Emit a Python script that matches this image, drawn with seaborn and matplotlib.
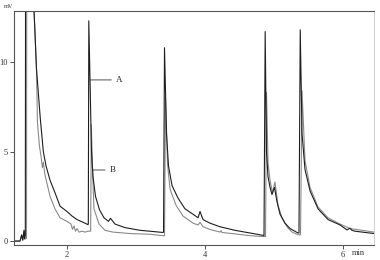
import matplotlib
matplotlib.use("Agg")
import matplotlib.pyplot as plt
import seaborn as sns
import pandas as pd

# Series A (darker trace)
time_a = [1.232, 1.319, 1.343, 1.359, 1.377, 1.386, 1.396, 1.401, 1.493, 1.522, 1.558, 1.614, 1.657,
          1.696, 1.754, 1.826, 1.899, 2.000, 2.072, 2.145, 2.232, 2.304, 2.309, 2.316, 2.333, 2.355,
          2.377, 2.413, 2.471, 2.536, 2.601, 2.630, 2.696, 2.841, 3.058, 3.203, 3.391, 3.399, 3.413,
          3.442, 3.471, 3.522, 3.609, 3.710, 3.826, 3.899, 3.928, 3.971, 4.072, 4.217, 4.435, 4.652,
          4.841, 4.855, 4.872, 4.891, 4.913, 4.942, 4.971, 5.007, 5.043, 5.087, 5.159, 5.232, 5.348,
          5.362, 5.380, 5.406, 5.449, 5.522, 5.638, 5.783, 5.957, 6.058, 6.101, 6.130, 6.174, 6.449]
mv_a = [0.0, 0.0, 0.35, 0.05, 0.6, 0.15, 0.3, 20.0, 16.0, 12.9, 9.6, 6.8, 5.0,
        4.2, 3.4, 2.7, 1.95, 1.65, 1.4, 1.2, 1.05, 0.92, 0.95, 12.3, 9.1, 5.0,
        3.6, 2.5, 1.75, 1.3, 1.1, 1.27, 0.95, 0.75, 0.6, 0.55, 0.48, 0.5, 10.8,
        6.0, 4.2, 3.1, 2.4, 1.8, 1.5, 1.3, 1.65, 1.2, 1.0, 0.8, 0.6, 0.45,
        0.32, 0.3, 11.7, 5.0, 3.6, 3.0, 2.6, 3.0, 2.2, 1.5, 1.0, 0.7, 0.45,
        0.45, 11.8, 6.0, 4.0, 2.8, 1.8, 1.2, 0.9, 0.62, 0.72, 0.6, 0.55, 0.42]

# Series B (lighter trace)
time_b = [1.232, 1.319, 1.343, 1.359, 1.377, 1.386, 1.413, 1.418, 1.493, 1.522, 1.558, 1.572, 1.601,
          1.629, 1.643, 1.657, 1.681, 1.754, 1.826, 1.899, 2.000, 2.058, 2.080, 2.101, 2.123, 2.145,
          2.174, 2.217, 2.261, 2.304, 2.343, 2.352, 2.370, 2.391, 2.464, 2.551, 2.667, 2.913, 3.203,
          3.391, 3.413, 3.428, 3.457, 3.493, 3.580, 3.681, 3.826, 3.899, 3.928, 3.971, 4.072, 4.217,
          4.232, 4.246, 4.435, 4.652, 4.841, 4.877, 4.891, 4.913, 4.942, 4.978, 5.014, 5.058, 5.116,
          5.188, 5.261, 5.348, 5.384, 5.406, 5.449, 5.522, 5.638, 5.783, 5.957, 6.101, 6.449]
mv_b = [0.0, 0.0, 0.3, 0.05, 0.55, 0.1, 0.15, 20.0, 16.0, 12.9, 9.6, 6.6, 5.3,
        4.6, 4.1, 4.4, 3.7, 2.5, 1.8, 1.3, 1.1, 0.95, 0.65, 0.85, 0.55, 0.7,
        0.5, 0.55, 0.5, 0.55, 0.55, 6.5, 4.0, 1.8, 0.95, 0.6, 0.5, 0.42, 0.38,
        0.3, 0.3, 8.0, 4.3, 2.9, 2.0, 1.4, 1.0, 0.9, 1.05, 0.8, 0.65, 0.5,
        0.58, 0.48, 0.4, 0.3, 0.25, 0.25, 8.3, 4.4, 3.4, 2.7, 3.3, 2.0, 1.3,
        0.8, 0.5, 0.35, 0.35, 8.4, 4.5, 3.0, 1.9, 1.3, 0.95, 0.7, 0.5]

df = pd.concat([
    pd.DataFrame({"t": time_a, "mv": mv_a, "trace": "A"}),
    pd.DataFrame({"t": time_b, "mv": mv_b, "trace": "B"}),
])

sns.set_style("white")
plt.rcParams["font.family"] = ["Liberation Serif", "DejaVu Serif"]

fig = plt.figure(figsize=(3.8, 2.6), dpi=100)
ax = fig.add_axes([14 / 380, 1 - 245 / 260, 360 / 380, 234 / 260])

sns.lineplot(data=df, x="t", y="mv", hue="trace", hue_order=["B", "A"],
             palette={"A": "#1e1e1e", "B": "#8a8a8a"}, sort=False,
             estimator=None, linewidth=0.8, legend=False, ax=ax)

ax.set_xlim(1.232, 6.449)
ax.set_ylim(-0.22, 12.85)
ax.set_xticks([2, 4, 6])
ax.set_yticks([0, 5, 10])
ax.set_xlabel("")
ax.set_ylabel("")
ax.tick_params(axis="both", direction="out", length=3, width=0.6, labelsize=6,
               pad=1.5, colors="#333333")
ax.tick_params(axis="y", left=True)
ax.tick_params(axis="x", bottom=True)
for side in ["left", "bottom", "top"]:
    ax.spines[side].set_color("#555555")
    ax.spines[side].set_linewidth(0.8)
ax.spines["right"].set_color("#c8c8c8")
ax.spines["right"].set_linewidth(0.6)

ax.annotate("A", xy=(2.333, 9.0), xytext=(2.71, 9.0), fontsize=6.5,
            va="center", ha="left",
            arrowprops=dict(arrowstyle="-", color="#333333", lw=0.6,
                            shrinkA=1, shrinkB=0))
ax.annotate("B", xy=(2.377, 3.97), xytext=(2.62, 3.97), fontsize=6.5,
            va="center", ha="left",
            arrowprops=dict(arrowstyle="-", color="#333333", lw=0.6,
                            shrinkA=1, shrinkB=0))

fig.text(4 / 380, 1 - 6 / 260, "mV", fontsize=4.5, va="center", ha="left", color="#333333")
fig.text(352 / 380, 1 - 253 / 260, "min", fontsize=6, va="center", ha="left", color="#333333")

fig.savefig("out.png", dpi=100)
